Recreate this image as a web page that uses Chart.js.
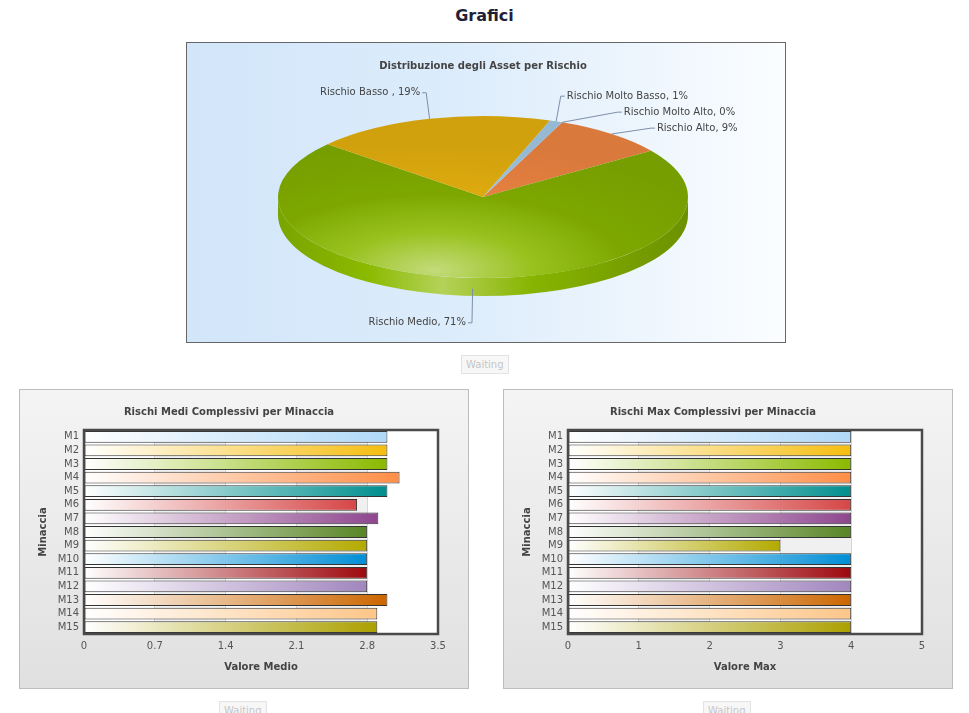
<!DOCTYPE html>
<html>
<head>
<meta charset="utf-8">
<title>Grafici</title>
<script src="https://cdn.jsdelivr.net/npm/chart.js@4"></script>
<style>
body { margin: 0; background: #fff; width: 969px; height: 713px; overflow: hidden; position: relative; font-family: "DejaVu Sans", Verdana, sans-serif; }
#pageTitle { position: absolute; left: 0; width: 969px; top: 6px; text-align: center; font-weight: bold; font-size: 16px; line-height: 19px; color: #1f1f38; }
.panel { position: absolute; }
#piePanel { left: 186px; top: 42px; width: 598px; height: 299px; border: 1px solid #666; background: linear-gradient(to right, #d2e6fa 0%, #dcecfb 45%, #fbfdff 100%); }
.barPanel { top: 389px; width: 448px; height: 298px; border: 1px solid #bdbdbd; background: linear-gradient(#f4f4f4, #e0e0e0); }
.panel canvas { display: block; }
.waiting { position: absolute; font-size: 10px; color: #c6c6c6; background: #f7f7f7; border: 1px solid #e3e3e3; padding: 2px 4px; line-height: 13px; }
</style>
</head>
<body>
<div id="pageTitle">Grafici</div>

<div class="panel" id="piePanel"><canvas id="pieChart" width="598" height="299"></canvas></div>
<div class="waiting" style="left:461px;top:355px;">Waiting</div>

<div class="panel barPanel" style="left:19px;"><canvas id="avgChart" width="448" height="298"></canvas></div>
<div class="panel barPanel" style="left:503px;"><canvas id="maxChart" width="448" height="298"></canvas></div>
<div class="waiting" style="left:219px;top:701px;">Waiting</div>
<div class="waiting" style="left:703px;top:701px;">Waiting</div>

<script>
// pie data (counter-clockwise order as in the original chart)
const pieLabels = ['Rischio Molto Basso', 'Rischio Basso ', 'Rischio Medio', 'Rischio Alto', 'Rischio Molto Alto'];
const piePercent = [1, 19, 71, 9, 0];
const pieColors = ['#AFD8F8', '#F6BD0F', '#8BBA00', '#FF8E46', '#008E8E'];

// bar data
const threats = ['M1', 'M2', 'M3', 'M4', 'M5', 'M6', 'M7', 'M8', 'M9', 'M10', 'M11', 'M12', 'M13', 'M14', 'M15'];
const avgRisk = [3.0, 3.0, 3.0, 3.12, 3.0, 2.7, 2.91, 2.8, 2.8, 2.8, 2.8, 2.8, 3.0, 2.9, 2.9];
const maxRisk = [4, 4, 4, 4, 4, 4, 4, 4, 3, 4, 4, 4, 4, 4, 4];
const barColors = ['#AFD8F8', '#F6BD0F', '#8BBA00', '#FF8E46', '#008E8E', '#D64646', '#8E468E', '#588526',
                   '#B3AA00', '#008ED6', '#9D080D', '#A186BE', '#CC6600', '#FDC689', '#ABA000'];
const avgTicks = [0, 0.7, 1.4, 2.1, 2.8, 3.5];
const maxTicks = [0, 1, 2, 3, 4, 5];

Chart.defaults.font.family = '"DejaVu Sans", Verdana, sans-serif';
Chart.defaults.font.size = 10;

function hexRgb(h) { const n = parseInt(h.slice(1), 16); return [n >> 16 & 255, n >> 8 & 255, n & 255]; }
function shade(h, f) { return 'rgb(' + hexRgb(h).map(v => Math.round(v * f)).join(',') + ')'; }
function tint(h, f) { return 'rgb(' + hexRgb(h).map(v => Math.round(v + (255 - v) * f)).join(',') + ')'; }

// ---------- PIE ----------
// chart.js draws clockwise, so feed it the reversed lists
const pieOrderLabels = pieLabels.slice().reverse();
const pieOrderValues = piePercent.slice().reverse();
const pieOrderColors = pieColors.slice().reverse();

const SQUASH = 0.395;
const DEPTH = 18;

function pieFill(c) {
    const base = pieOrderColors[c.dataIndex];
    const a = c.chart.chartArea;
    if (c.type !== 'data' || !a) return base;
    const cx = (a.left + a.right) / 2, cy = (a.top + a.bottom) / 2;
    // highlight sits at the front-left of the disc (in unsquashed space)
    const hx = cx - 48, hy = cy + 185;
    const g = c.chart.ctx.createRadialGradient(hx, hy, 0, hx, hy, 320);
    g.addColorStop(0, tint(base, 0.48));
    g.addColorStop(0.3, tint(base, 0.12));
    g.addColorStop(0.6, shade(base, 0.9));
    g.addColorStop(1, shade(base, 0.85));
    return g;
}

// parts of an arc that face the viewer (canvas angles 0..PI)
function frontPieces(a1, a2) {
    const out = [];
    for (let k = -2; k <= 2; k++) {
        const s = Math.max(a1, k * 2 * Math.PI);
        const e = Math.min(a2, k * 2 * Math.PI + Math.PI);
        if (e > s) out.push([s, e]);
    }
    return out;
}

const pie3d = {
    id: 'pie3d',
    beforeDatasetsDraw(chart) {
        const ctx = chart.ctx;
        const arcs = chart.getDatasetMeta(0).data;
        const x = arcs[0].x, y = arcs[0].y, r = arcs[0].outerRadius;
        const ry = r * SQUASH;

        // side wall
        arcs.forEach((arc, i) => {
            const base = pieOrderColors[i];
            frontPieces(arc.startAngle, arc.endAngle).forEach(([s, e]) => {
                const g = ctx.createLinearGradient(x - r, 0, x + r, 0);
                g.addColorStop(0, shade(base, 0.88));
                g.addColorStop(0.22, shade(base, 1));
                g.addColorStop(0.4, tint(base, 0.35));
                g.addColorStop(0.62, shade(base, 0.97));
                g.addColorStop(1, shade(base, 0.78));
                ctx.beginPath();
                ctx.ellipse(x, y, r, ry, 0, s, e);
                ctx.ellipse(x, y + DEPTH, r, ry, 0, e, s, true);
                ctx.closePath();
                ctx.fillStyle = g;
                ctx.fill();
            });
        });

        // squash the top face
        ctx.save();
        ctx.translate(x, y);
        ctx.scale(1, SQUASH);
        ctx.translate(-x, -y);
    },
    afterDatasetsDraw(chart) {
        const ctx = chart.ctx;
        ctx.restore();

        const arcs = chart.getDatasetMeta(0).data;
        const x = arcs[0].x, y = arcs[0].y, r = arcs[0].outerRadius;
        const ry = r * SQUASH;
        const lry = ry + 27, lrx = r + 13;

        const items = arcs.map((arc, i) => {
            const mid = (arc.startAngle + arc.endAngle) / 2;
            const c = Math.cos(mid), s = Math.sin(mid);
            const front = s > 0 ? DEPTH : 0;
            return {
                text: pieOrderLabels[i] + ', ' + pieOrderValues[i] + '%',
                right: c >= 0,
                ax: x + r * c,
                ay: y + ry * s + front * 0.6,
                ly: y + lry * s + front
            };
        });

        // keep labels on the same side from overlapping
        [true, false].forEach(side => {
            const grp = items.filter(it => it.right === side).sort((a, b) => a.ly - b.ly);
            for (let k = 1; k < grp.length; k++) {
                if (grp[k].ly < grp[k - 1].ly + 16) grp[k].ly = grp[k - 1].ly + 16;
            }
        });

        ctx.save();
        ctx.font = '10px "DejaVu Sans", Verdana, sans-serif';
        ctx.textBaseline = 'middle';
        ctx.strokeStyle = '#7d8ea8';
        ctx.lineWidth = 1;
        ctx.fillStyle = '#444';
        items.forEach(it => {
            const front = it.ly > y ? DEPTH : 0;
            const t = Math.max(-1, Math.min(1, (it.ly - y - front) / lry));
            const dx = lrx * Math.sqrt(1 - t * t);
            const lx = x + (it.right ? dx : -dx);
            const dir = it.right ? 1 : -1;
            ctx.beginPath();
            ctx.moveTo(it.ax, it.ay);
            ctx.lineTo(lx, it.ly);
            ctx.lineTo(lx + 4 * dir, it.ly);
            ctx.stroke();
            ctx.textAlign = it.right ? 'left' : 'right';
            ctx.fillText(it.text, lx + 6 * dir, it.ly);
        });
        ctx.restore();
    }
};

new Chart(document.getElementById('pieChart'), {
    type: 'pie',
    data: {
        labels: pieOrderLabels,
        datasets: [{
            data: pieOrderValues,
            backgroundColor: pieFill,
            borderWidth: 0,
            radius: 205,
            rotation: 22.7,
            clip: false
        }]
    },
    options: {
        responsive: false,
        animation: false,
        events: [],
        layout: { padding: { right: 6, bottom: 20 } },
        plugins: {
            legend: { display: false },
            tooltip: { enabled: false },
            title: {
                display: true,
                text: 'Distribuzione degli Asset per Rischio',
                color: '#444',
                font: { size: 10, weight: 'bold' },
                padding: { top: 17, bottom: 0 }
            }
        }
    },
    plugins: [pie3d]
});

// ---------- BARS ----------
const plotFrame = {
    id: 'plotFrame',
    beforeDraw(chart) {
        const ctx = chart.ctx, a = chart.chartArea, xs = chart.scales.x;
        ctx.save();
        ctx.fillStyle = '#fff';
        ctx.fillRect(a.left, a.top, a.width, a.height);
        // alternate vertical bands
        ctx.fillStyle = '#f0f0f0';
        xs.ticks.forEach((t, i) => {
            if (i % 2 === 1 && i < xs.ticks.length - 1) {
                const p0 = xs.getPixelForValue(t.value);
                const p1 = xs.getPixelForValue(xs.ticks[i + 1].value);
                ctx.fillRect(p0, a.top, p1 - p0, a.height);
            }
        });
        ctx.restore();
    },
    afterDraw(chart) {
        const ctx = chart.ctx, a = chart.chartArea;
        ctx.save();
        ctx.strokeStyle = '#4a4a4a';
        ctx.lineWidth = 2.5;
        ctx.strokeRect(a.left, a.top, a.width, a.height);
        ctx.restore();
    }
};

function barFill(c) {
    const color = barColors[c.dataIndex];
    const chart = c.chart;
    if (c.type !== 'data' || !chart.chartArea) return color;
    const xs = chart.scales.x;
    const g = chart.ctx.createLinearGradient(xs.getPixelForValue(0), 0, xs.getPixelForValue(c.raw), 0);
    g.addColorStop(0, '#ffffff');
    g.addColorStop(1, color);
    return g;
}

function barChart(id, title, axisTitle, values, ticks) {
    new Chart(document.getElementById(id), {
        type: 'bar',
        data: {
            labels: threats,
            datasets: [{
                data: values,
                backgroundColor: barFill,
                borderColor: '#333',
                borderWidth: 1,
                borderSkipped: false,
                barPercentage: 0.87,
                categoryPercentage: 1
            }]
        },
        options: {
            indexAxis: 'y',
            responsive: false,
            animation: false,
            events: [],
            layout: { padding: { top: 0, right: 30, bottom: 0, left: 0 } },
            plugins: {
                legend: { display: false },
                tooltip: { enabled: false },
                title: {
                    display: true,
                    text: title,
                    color: '#444',
                    font: { size: 10, weight: 'bold' },
                    padding: { top: 16, bottom: 12 }
                }
            },
            scales: {
                x: {
                    min: ticks[0],
                    max: ticks[ticks.length - 1],
                    afterBuildTicks: s => { s.ticks = ticks.map(v => ({ value: v })); },
                    afterFit: s => { s.height = 54; },
                    grid: { color: '#d6d6d6', drawTicks: false },
                    border: { display: false },
                    ticks: { padding: 6, color: '#555', font: { size: 10 }, callback: v => String(v) },
                    title: {
                        display: true, text: axisTitle, color: '#444',
                        font: { size: 10, weight: 'bold' },
                        padding: { top: 0, bottom: 15 }
                    }
                },
                y: {
                    afterFit: s => { s.width = 64; },
                    grid: { display: false, drawTicks: false },
                    border: { display: false },
                    ticks: { padding: 5, color: '#555', font: { size: 10 }, autoSkip: false },
                    title: {
                        display: true, text: 'Minaccia', color: '#444',
                        font: { size: 10, weight: 'bold' },
                        padding: { top: 17, bottom: 0 }
                    }
                }
            }
        },
        plugins: [plotFrame]
    });
}

barChart('avgChart', 'Rischi Medi Complessivi per Minaccia', 'Valore Medio', avgRisk, avgTicks);
barChart('maxChart', 'Rischi Max Complessivi per Minaccia', 'Valore Max', maxRisk, maxTicks);
</script>
</body>
</html>
